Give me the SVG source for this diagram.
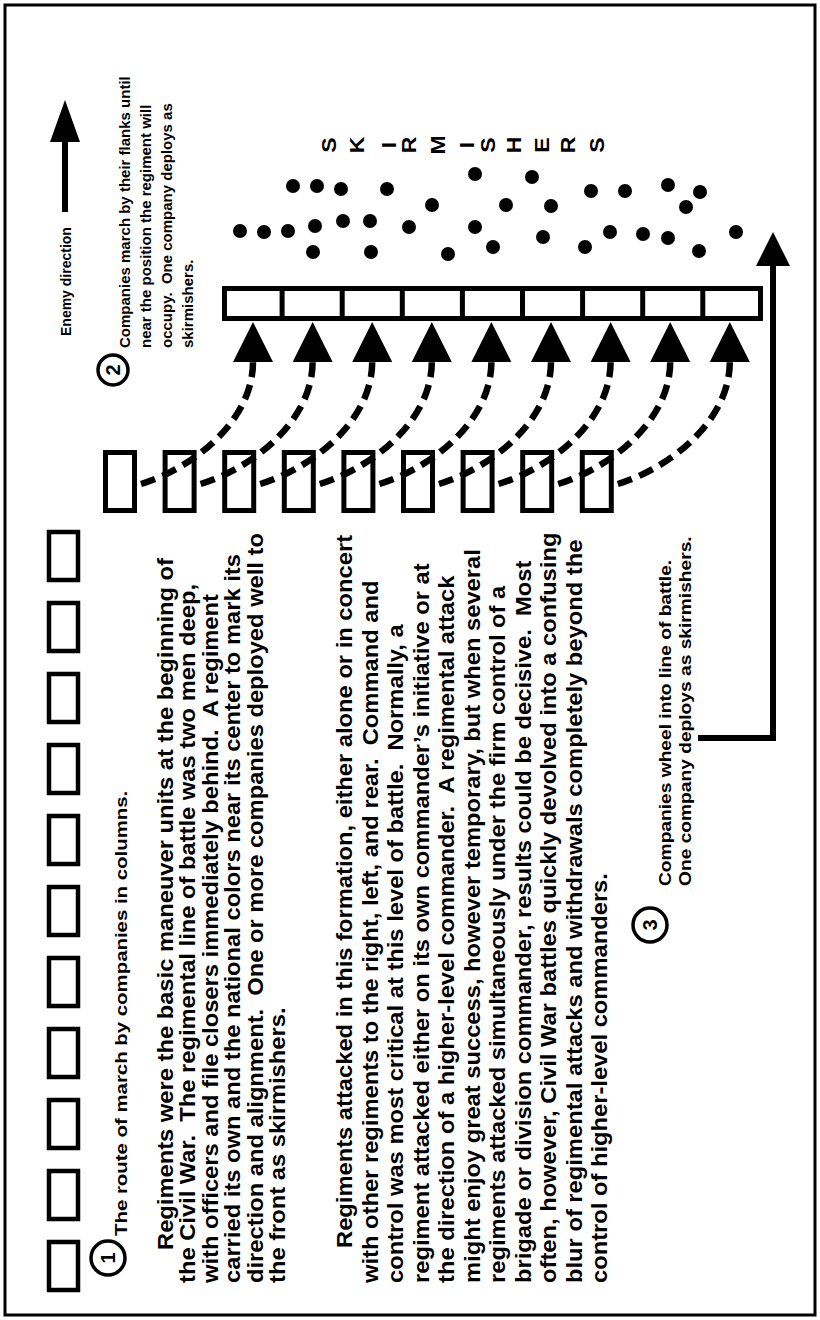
<svg xmlns="http://www.w3.org/2000/svg" width="820" height="1320" viewBox="0 0 820 1320">
<style>
text{font-family:"Liberation Sans",Arial,sans-serif;font-weight:bold;fill:#000;white-space:pre}
.p{font-size:22.5px}
.s{font-size:15px}
.e{font-size:14px}
.r{font-size:17px}
.t{font-size:16px}
.n{font-size:20px;text-anchor:middle}
.k{font-size:20px;text-anchor:middle}
.box{fill:#fff;stroke:#000;stroke-width:4.5}
.wbox{fill:#fff;stroke:#000;stroke-width:5}
.ring{fill:#fff;stroke:#000;stroke-width:3.5}
.arc{fill:none;stroke:#000;stroke-width:6.5;stroke-dasharray:15 8;marker-end:url(#head)}
.solid{fill:none;stroke:#000;stroke-width:6}
.dot{fill:#000}
</style>
<defs>
<marker id="head" viewBox="0 0 40 40" refX="0" refY="20" markerWidth="40" markerHeight="40" markerUnits="userSpaceOnUse" orient="auto"><path d="M0,0 L40,20 L0,40 Z" fill="#000"/></marker>
<marker id="head2" viewBox="0 0 34 34" refX="0" refY="17" markerWidth="34" markerHeight="34" markerUnits="userSpaceOnUse" orient="auto"><path d="M0,0 L34,17 L0,34 Z" fill="#000"/></marker>
<marker id="head3" viewBox="0 0 42 30" refX="0" refY="15" markerWidth="42" markerHeight="30" markerUnits="userSpaceOnUse" orient="auto"><path d="M0,0 L42,15 L0,30 Z" fill="#000"/></marker>
</defs>
<rect x="5" y="5" width="810" height="1310" fill="#fff" stroke="#000" stroke-width="3"/>

<g id="enemy-direction">
<text class="e" transform="translate(71,336) rotate(-90)">Enemy direction</text>
</g>

<g id="march-column">
<rect class="box" x="49" y="532" width="29" height="48"/>
<rect class="box" x="49" y="603" width="29" height="48"/>
<rect class="box" x="49" y="674" width="29" height="48"/>
<rect class="box" x="49" y="745" width="29" height="48"/>
<rect class="box" x="49" y="816" width="29" height="48"/>
<rect class="box" x="49" y="887" width="29" height="48"/>
<rect class="box" x="49" y="958" width="29" height="48"/>
<rect class="box" x="49" y="1029" width="29" height="48"/>
<rect class="box" x="49" y="1100" width="29" height="48"/>
<rect class="box" x="49" y="1171" width="29" height="48"/>
<rect class="box" x="49" y="1242" width="29" height="48"/>
</g>

<g id="note-1">
<circle class="ring" cx="108" cy="1258" r="17"/>
<text class="n" transform="translate(115,1258) rotate(-90)">1</text>
<text class="r" transform="translate(127,1236) rotate(-90) scale(1.2,1)">The route of march by companies in columns.</text>
</g>

<g id="note-2">
<circle class="ring" cx="113" cy="370" r="15"/>
<text class="n" transform="translate(120,370) rotate(-90)">2</text>
<text class="s" transform="translate(130,348) rotate(-90)">Companies march by their flanks until</text>
<text class="s" transform="translate(151,348) rotate(-90)">near the position the regiment will</text>
<text class="s" transform="translate(172,348) rotate(-90)">occupy.  One company deploys as</text>
<text class="s" transform="translate(193,348) rotate(-90)">skirmishers.</text>
</g>

<g id="paragraph-1">
<text class="p" transform="translate(173,1250) rotate(-90) scale(1.055,1)">Regiments were the basic maneuver units at the beginning of</text>
<text class="p" transform="translate(195,1283) rotate(-90) scale(1.055,1)">the Civil War.  The regimental line of battle was two men deep,</text>
<text class="p" transform="translate(218,1283) rotate(-90) scale(1.055,1)">with officers and file closers immediately behind.  A regiment</text>
<text class="p" transform="translate(240,1283) rotate(-90) scale(1.055,1)">carried its own and the national colors near its center to mark its</text>
<text class="p" transform="translate(263,1283) rotate(-90) scale(1.055,1)">direction and alignment.  One or more companies deployed well to</text>
<text class="p" transform="translate(285,1283) rotate(-90) scale(1.055,1)">the front as skirmishers.</text>
</g>

<g id="paragraph-2">
<text class="p" transform="translate(352,1248) rotate(-90) scale(1.055,1)">Regiments attacked in this formation, either alone or in concert</text>
<text class="p" transform="translate(377.5,1283) rotate(-90) scale(1.055,1)">with other regiments to the right, left, and rear.  Command and</text>
<text class="p" transform="translate(403,1283) rotate(-90) scale(1.055,1)">control was most critical at this level of battle.  Normally, a</text>
<text class="p" transform="translate(428.5,1283) rotate(-90) scale(1.055,1)">regiment attacked either on its own commander’s initiative or at</text>
<text class="p" transform="translate(454,1283) rotate(-90) scale(1.055,1)">the direction of a higher-level commander.  A regimental attack</text>
<text class="p" transform="translate(479.5,1283) rotate(-90) scale(1.055,1)">might enjoy great success, however temporary, but when several</text>
<text class="p" transform="translate(505,1283) rotate(-90) scale(1.055,1)">regiments attacked simultaneously under the firm control of a</text>
<text class="p" transform="translate(530.5,1283) rotate(-90) scale(1.055,1)">brigade or division commander, results could be decisive.  Most</text>
<text class="p" transform="translate(556,1283) rotate(-90) scale(1.055,1)">often, however, Civil War battles quickly devolved into a confusing</text>
<text class="p" transform="translate(581.5,1283) rotate(-90) scale(1.055,1)">blur of regimental attacks and withdrawals completely beyond the</text>
<text class="p" transform="translate(607,1283) rotate(-90) scale(1.055,1)">control of higher-level commanders.</text>
</g>

<g id="note-3">
<circle class="ring" cx="650" cy="925" r="17"/>
<text class="n" transform="translate(657,925) rotate(-90)">3</text>
<text class="t" transform="translate(671,886) rotate(-90) scale(1.2,1)">Companies wheel into line of battle.</text>
<text class="t" transform="translate(691,886) rotate(-90) scale(1.2,1)">One company deploys as skirmishers.</text>
</g>

<g id="wheel-row">
<rect class="wbox" x="105.5" y="452.5" width="29" height="58"/>
<rect class="wbox" x="165.1" y="452.5" width="29" height="58"/>
<rect class="wbox" x="224.7" y="452.5" width="29" height="58"/>
<rect class="wbox" x="284.3" y="452.5" width="29" height="58"/>
<rect class="wbox" x="343.9" y="452.5" width="29" height="58"/>
<rect class="wbox" x="403.5" y="452.5" width="29" height="58"/>
<rect class="wbox" x="463.1" y="452.5" width="29" height="58"/>
<rect class="wbox" x="522.7" y="452.5" width="29" height="58"/>
<rect class="wbox" x="582.3" y="452.5" width="29" height="58"/>
</g>

<g id="skirmish-line">
<rect x="224.5" y="288.5" width="536" height="30" fill="#fff" stroke="#000" stroke-width="5"/>
<path d="M282.1 288V319M342.2 288V319M402.3 288V319M462.4 288V319M522.5 288V319M582.6 288V319M642.7 288V319M702.8 288V319" stroke="#000" stroke-width="5"/>
</g>

<g id="skirmishers">
<circle class="dot" cx="240" cy="231" r="7"/>
<circle class="dot" cx="264" cy="232" r="7"/>
<circle class="dot" cx="288" cy="231" r="7"/>
<circle class="dot" cx="293" cy="186" r="7"/>
<circle class="dot" cx="317" cy="186" r="7"/>
<circle class="dot" cx="341" cy="189" r="7"/>
<circle class="dot" cx="315" cy="226" r="7"/>
<circle class="dot" cx="313" cy="252" r="7"/>
<circle class="dot" cx="343" cy="221" r="7"/>
<circle class="dot" cx="370" cy="221" r="7"/>
<circle class="dot" cx="371" cy="252" r="7"/>
<circle class="dot" cx="387" cy="189" r="7"/>
<circle class="dot" cx="409" cy="227" r="7"/>
<circle class="dot" cx="432" cy="205" r="7"/>
<circle class="dot" cx="448" cy="254" r="7"/>
<circle class="dot" cx="475" cy="174" r="7"/>
<circle class="dot" cx="475" cy="227" r="7"/>
<circle class="dot" cx="493" cy="247" r="7"/>
<circle class="dot" cx="506" cy="205" r="7"/>
<circle class="dot" cx="532" cy="177" r="7"/>
<circle class="dot" cx="551" cy="206" r="7"/>
<circle class="dot" cx="543" cy="237" r="7"/>
<circle class="dot" cx="585" cy="247" r="7"/>
<circle class="dot" cx="591" cy="191" r="7"/>
<circle class="dot" cx="610" cy="232" r="7"/>
<circle class="dot" cx="625" cy="191" r="7"/>
<circle class="dot" cx="643" cy="234" r="7"/>
<circle class="dot" cx="668" cy="238" r="7"/>
<circle class="dot" cx="668" cy="185" r="7"/>
<circle class="dot" cx="686" cy="207" r="7"/>
<circle class="dot" cx="700" cy="192" r="7"/>
<circle class="dot" cx="699" cy="251" r="7"/>
<circle class="dot" cx="736" cy="232" r="7"/>
<text class="k" transform="translate(336,145) rotate(-90) scale(1.15,1)">S</text>
<text class="k" transform="translate(364,145) rotate(-90) scale(1.15,1)">K</text>
<text class="k" transform="translate(396,145) rotate(-90) scale(1.15,1)">I</text>
<text class="k" transform="translate(416,145) rotate(-90) scale(1.15,1)">R</text>
<text class="k" transform="translate(445,145) rotate(-90) scale(1.15,1)">M</text>
<text class="k" transform="translate(474,145) rotate(-90) scale(1.15,1)">I</text>
<text class="k" transform="translate(495,145) rotate(-90) scale(1.15,1)">S</text>
<text class="k" transform="translate(521,145) rotate(-90) scale(1.15,1)">H</text>
<text class="k" transform="translate(549,145) rotate(-90) scale(1.15,1)">E</text>
<text class="k" transform="translate(575,145) rotate(-90) scale(1.15,1)">R</text>
<text class="k" transform="translate(604,145) rotate(-90) scale(1.15,1)">S</text>
</g>

<g id="connectors">
<path class="solid" d="M65 212V142" marker-end="url(#head3)"/>
<path class="solid" d="M698 738H773V266" marker-end="url(#head2)"/>
<path class="arc" d="M141 484C191 469 253 422 253 362"/>
<path class="arc" d="M200.6 484C250.6 469 312.6 422 312.6 362"/>
<path class="arc" d="M260.2 484C310.2 469 372.2 422 372.2 362"/>
<path class="arc" d="M319.8 484C369.8 469 431.8 422 431.8 362"/>
<path class="arc" d="M379.4 484C429.4 469 491.4 422 491.4 362"/>
<path class="arc" d="M439 484C489 469 551 422 551 362"/>
<path class="arc" d="M498.6 484C548.6 469 610.6 422 610.6 362"/>
<path class="arc" d="M558.2 484C608.2 469 670.2 422 670.2 362"/>
<path class="arc" d="M617.8 484C667.8 469 729.8 422 729.8 362"/>
</g>
</svg>
